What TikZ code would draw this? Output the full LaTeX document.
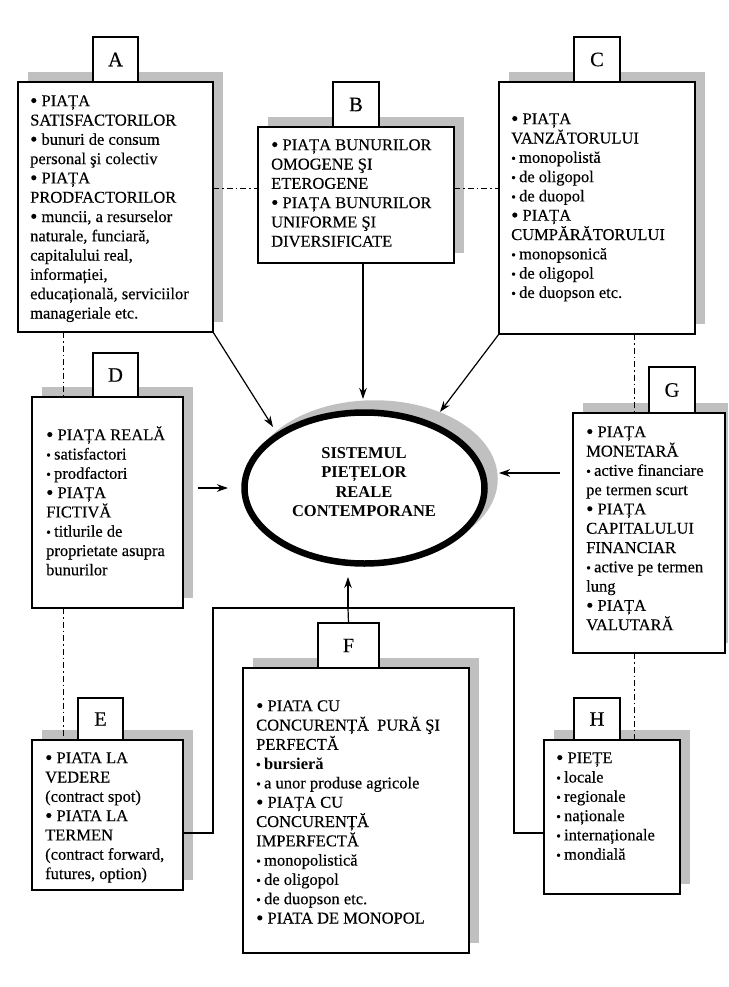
\documentclass[tikz,border=0pt]{standalone}
\usepackage{fontspec}
\usepackage{graphicx}
\setmainfont{Liberation Serif}[UprightFeatures={FakeBold=0.3}]
\usetikzlibrary{calc,arrows.meta,shapes.geometric}
\definecolor{shd}{RGB}{192,192,192}
\newcommand\mb{\raisebox{-1.2pt}{\scalebox{1.25}{\textbullet}}\ }
\newcommand\sbl{{\fontsize{13.5}{13.5}\selectfont\textbullet}\hspace{3.2pt}}
\newcommand\fs{\rule{0pt}{17pt}}
% shadowed box: name, x, y (top-left), width, height
\newcommand\bx[5]{%
  \fill[shd] (#2+10,#3-10) rectangle ({min(#2+10+#4,728)},#3-10+#5);
  \node[box, minimum width=#4pt, minimum height=#5pt] (#1) at (#2,#3) {};}
\begin{document}
\begin{tikzpicture}[x=1pt,y=-1pt,
  box/.style={draw, line width=1.3pt, fill=white, anchor=north west, inner sep=0pt, outer sep=0pt},
  lab/.style={draw, line width=1.3pt, fill=white, anchor=north west, inner sep=0pt, outer sep=0pt,
    font=\fontsize{20.5}{20.5}\selectfont},
  txt/.style={anchor=north west, inner sep=0pt, align=left, font=\fontsize{16.5}{19.3}\selectfont},
  dd/.style={line width=0.9pt, dash pattern=on 6pt off 3pt on 1.5pt off 3pt},
  conn/.style={line width=1.2pt},
  arr/.style={line width=1.2pt, -{Stealth[length=11pt,width=7.5pt]}}]
\useasboundingbox (0,0) rectangle (728,987);

% ---------- boxes ----------
\bx{A}{18}{82}{195}{250}
\node[lab, minimum width=45pt, minimum height=45pt] (Al) at (93,37) {A};
\bx{B}{258}{127}{196}{136}
\node[lab, minimum width=46pt, minimum height=45pt] (Bl) at (333,82) {B};
\bx{C}{499}{82}{196}{252}
\node[lab, minimum width=46pt, minimum height=45pt] (Cl) at (574,37) {C};
\bx{D}{32}{397}{151}{211}
\node[lab, minimum width=45pt, minimum height=44pt] (Dl) at (93,353) {D};
\bx{E}{32}{740}{151}{150}
\node[lab, minimum width=45pt, minimum height=42pt] (El) at (78,698) {E};
\bx{F}{243}{668}{226}{285}
\node[lab, minimum width=61pt, minimum height=45pt] (Fl) at (318,623) {F};
\bx{G}{573}{413}{152}{240}
\node[lab, minimum width=46pt, minimum height=46pt] (Gl) at (649,367) {G};
\bx{H}{544}{740}{136}{154}
\node[lab, minimum width=46pt, minimum height=42pt] (Hl) at (574,698) {H};

% ---------- central ellipse ----------
\draw[shd, fill=shd, line width=6.5pt] (374.5,479) ellipse [x radius=120, y radius=75.5];
\node[ellipse, draw, line width=6.5pt, fill=white, minimum width=240pt, minimum height=151pt,
  inner sep=0pt, outer sep=0pt] (S) at (364.5,488) {};
\node[align=center, inner sep=0pt, font=\fontsize{16.5}{19.3}\selectfont\bfseries] (St) at (364,482)
  {SISTEMUL\\PIEȚELOR\\REALE\\CONTEMPORANE};

% ---------- texts ----------
\node[txt] (At) at (30,89) {\fs\mb PIAȚA\\SATISFACTORILOR\\\mb bunuri de consum\\personal şi colectiv\\\mb PIAȚA\\PRODFACTORILOR\\\mb muncii, a resurselor\\naturale, funciară,\\capitalului real,\\informației,\\educațională, serviciilor\\manageriale etc.};
\node[txt] (Bt) at (271,133) {\fs\mb PIAȚA BUNURILOR\\OMOGENE ŞI\\ETEROGENE\\\mb PIAȚA BUNURILOR\\UNIFORME ŞI\\DIVERSIFICATE};
\node[txt] (Ct) at (511,107) {\fs\mb PIAȚA\\VANZĂTORULUI\\\sbl monopolistă\\\sbl de oligopol\\\sbl de duopol\\\mb PIAȚA\\CUMPĂRĂTORULUI\\\sbl monopsonică\\\sbl de oligopol\\\sbl de duopson etc.};
\node[txt] (Dt) at (46,423) {\fs\mb PIAȚA REALĂ\\\sbl satisfactori\\\sbl prodfactori\\\mb PIAȚA\\FICTIVĂ\\\sbl titlurile de\\proprietate asupra\\bunurilor};
\node[txt] (Et) at (45,746) {\fs\mb PIATA LA\\VEDERE\\(contract spot)\\\mb PIATA LA\\TERMEN\\(contract forward,\\futures, option)};
\node[txt] (Ft) at (256,694) {\fs\mb PIATA CU\\CONCURENȚĂ\ \ PURĂ ŞI\\PERFECTĂ\\{\bfseries\sbl bursieră}\\\sbl a unor produse agricole\\\mb PIAȚA CU\\CONCURENȚĂ\\IMPERFECTĂ\\\sbl monopolistică\\\sbl de oligopol\\\sbl de duopson etc.\\\mb PIATA DE MONOPOL};
\node[txt] (Gt) at (586,420) {\fs\mb PIAȚA\\MONETARĂ\\\sbl active financiare\\pe termen scurt\\\mb PIAȚA\\CAPITALULUI\\FINANCIAR\\\sbl active pe termen\\lung\\\mb PIAȚA\\VALUTARĂ};
\node[txt] (Ht) at (556,746) {\fs\mb PIEȚE\\\sbl locale\\\sbl regionale\\\sbl naționale\\\sbl internaționale\\\sbl mondială};

% ---------- dash-dot links ----------
\draw[dd] ([yshift=-106pt]A.north east) -- ([yshift=-106pt]A.north east -| B.west);
\draw[dd] ([yshift=-61pt]B.north east) -- ([yshift=-61pt]B.north east -| C.west);
\draw[dd] ([xshift=45pt]A.south west) -- ([xshift=31pt]D.north west);
\draw[dd] ([xshift=31pt]D.south west) -- ([xshift=31pt]E.north west);
\draw[dd] ([xshift=135pt]C.south west) -- ([xshift=61pt]G.north west);
\draw[dd] ([xshift=61pt]G.south west) -- ([xshift=90pt]H.north west);

% ---------- arrows to the centre ----------
\coordinate (tA) at (273,427);
\coordinate (sB) at (363,263);
\coordinate (tB) at (363,399);
\coordinate (tC) at (440,412);
\coordinate (sD) at (198,488);
\coordinate (tD) at (228,488);
\coordinate (sG) at (560,473);
\coordinate (tG) at (499,473);
\coordinate (busL) at (213,608);
\coordinate (busR) at (514,608);
\coordinate (busM) at (348,608);
\coordinate (tF) at (348,577);
\draw[arr] (A.south east) -- (tA);
\draw[arr] (sB) -- (tB);
\draw[arr] (C.south west) -- (tC);
\draw[arr] (sD) -- (tD);
\draw[arr] (sG) -- (tG);
\draw[conn] ([yshift=-93pt]E.north east) -| (busL) -- (busR) |- ([yshift=-93pt]H.north west);
\draw[conn] (Fl.north) -- (busM);
\draw[arr] (busM) -- (tF);
\end{tikzpicture}
\end{document}
